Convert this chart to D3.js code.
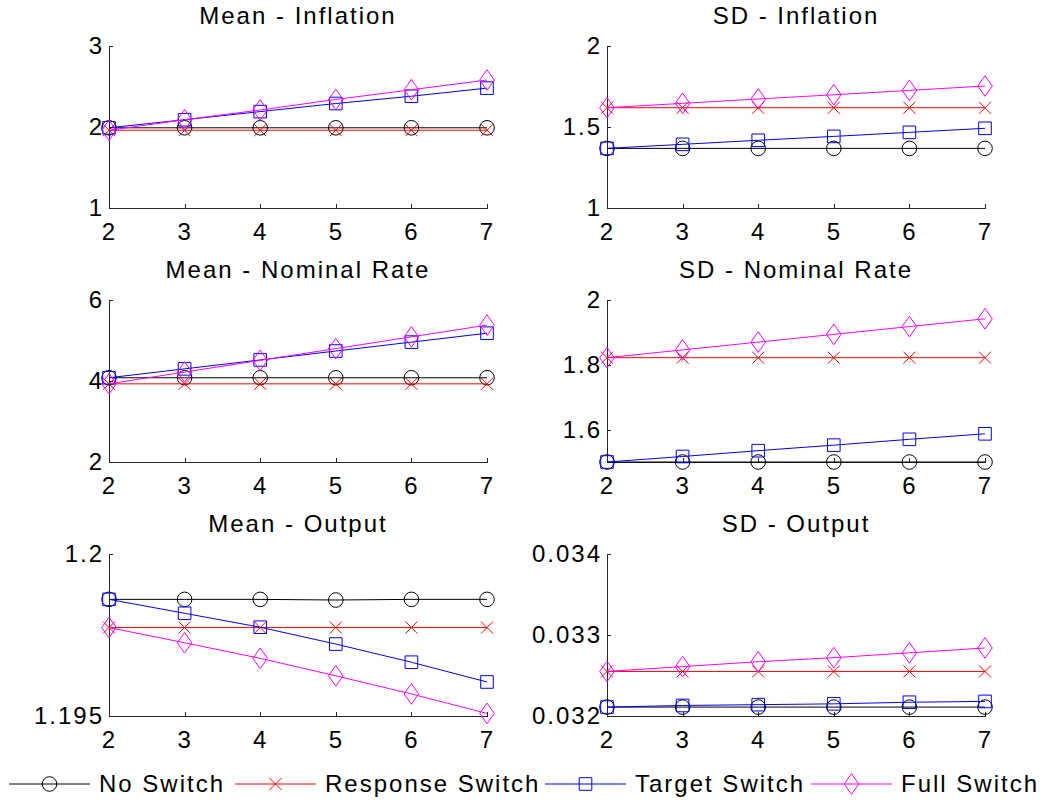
<!DOCTYPE html>
<html>
<head>
<meta charset="utf-8">
<script src="https://cdn.jsdelivr.net/npm/d3@7"></script>
<style>
  body { margin: 0; background: white; }
  svg { font-family: 'Liberation Sans', Arial, sans-serif; }
  .title, .tick text, .legendText {
    font-family: 'Liberation Sans', Arial, sans-serif;
    font-size: 24px;
    letter-spacing: 2px;
    fill: #000;
  }
</style>
</head>
<body>
<svg id="chart" width="1043" height="803"></svg>
<script>

// horizons on the x axis
const horizons = [2, 3, 4, 5, 6, 7];

const seriesNames = ['No Switch', 'Response Switch', 'Target Switch', 'Full Switch'];
const seriesColors = ['#000000', '#ff0000', '#0000ff', '#ff00ff'];
const seriesShapes = ['circle', 'cross', 'square', 'diamond'];

// one row per series: no switch, response, target, full
const meanInflation = [
  [1.99, 1.99, 1.99, 1.99, 1.99, 1.99],
  [1.96, 1.96, 1.96, 1.96, 1.96, 1.96],
  [1.99, 2.09, 2.19, 2.29, 2.38, 2.48],
  [1.96, 2.09, 2.21, 2.34, 2.46, 2.58]
];
const sdInflation = [
  [1.368, 1.368, 1.368, 1.368, 1.368, 1.368],
  [1.619, 1.619, 1.619, 1.619, 1.619, 1.619],
  [1.368, 1.393, 1.418, 1.442, 1.467, 1.492],
  [1.619, 1.646, 1.673, 1.699, 1.726, 1.753]
];
const meanNominal = [
  [4.08, 4.08, 4.08, 4.08, 4.08, 4.08],
  [3.93, 3.93, 3.93, 3.93, 3.93, 3.93],
  [4.08, 4.30, 4.52, 4.74, 4.96, 5.18],
  [3.93, 4.22, 4.51, 4.80, 5.09, 5.38]
];
const sdNominal = [
  [1.5, 1.5, 1.5, 1.5, 1.5, 1.5],
  [1.822, 1.822, 1.822, 1.822, 1.822, 1.822],
  [1.5, 1.517, 1.535, 1.552, 1.570, 1.587],
  [1.822, 1.846, 1.870, 1.894, 1.918, 1.942]
];
const meanOutput = [
  [1.1986, 1.1986, 1.1986, 1.19858, 1.1986, 1.1986],
  [1.19773, 1.19773, 1.19773, 1.19773, 1.19773, 1.19773],
  [1.1986, 1.19817, 1.19774, 1.19722, 1.19666, 1.19605],
  [1.19773, 1.19726, 1.19678, 1.19624, 1.19568, 1.19508]
];
const sdOutput = [
  [0.03211, 0.03211, 0.03211, 0.03211, 0.03211, 0.03211],
  [0.03255, 0.03255, 0.03255, 0.03255, 0.03255, 0.03255],
  [0.03211, 0.03213, 0.03214, 0.03215, 0.03217, 0.03218],
  [0.03255, 0.03261, 0.03267, 0.03272, 0.03278, 0.03284]
];

const panelTitles = ['Mean - Inflation', 'SD - Inflation', 'Mean - Nominal Rate',
  'SD - Nominal Rate', 'Mean - Output', 'SD - Output'];
const panelValues = [meanInflation, sdInflation, meanNominal, sdNominal, meanOutput, sdOutput];

// y limits and tick labels
const yLimits = [[1, 3], [1, 2], [2, 6], [1.5, 2], [1.195, 1.2], [0.032, 0.034]];
const yTickValues = [[1, 2, 3], [1, 1.5, 2], [2, 4, 6], [1.6, 1.8, 2], [1.195, 1.2], [0.032, 0.033, 0.034]];


function markerPath(shape) {
  if (shape == 'circle') return 'M-7.3,0A7.3,7.3 0 1 0 7.3,0A7.3,7.3 0 1 0 -7.3,0Z';
  if (shape == 'cross') return 'M-6,-6L6,6M-6,6L6,-6';
  if (shape == 'square') return 'M-6.3,-6.3H6.3V6.3H-6.3Z';
  return 'M0,-10.3L7.3,0L0,10.3L-7.3,0Z';
}


function drawPanel(svg, i) {

  // variables
  const colLeft = [109, 607],
    rowTop = [46, 300, 554],
    innerWidth = 378,
    innerHeight = 162;

  const left = colLeft[i % 2],
    top = rowTop[Math.floor(i / 2)];

  let g = svg.append('g')
    .attr('class', 'panel')
    .attr('transform', `translate(${left}, ${top})`);

  // scales
  const x = d3.scaleLinear()
    .domain(d3.extent(horizons))
    .range([0, innerWidth]);

  const y = d3.scaleLinear()
    .domain(yLimits[i])
    .range([innerHeight, 0]);

  // axes, ticks pointing inward like matlab
  const xAxis = d3.axisBottom(x)
    .tickValues(horizons)
    .tickFormat(d3.format('d'))
    .tickSizeInner(-4)
    .tickSizeOuter(0)
    .tickPadding(15);

  const yAxis = d3.axisLeft(y)
    .tickValues(yTickValues[i])
    .tickFormat(d => String(d))
    .tickSizeInner(-4)
    .tickSizeOuter(0)
    .tickPadding(5);

  g.append('g')
    .attr('class', 'xAxis')
    .attr('transform', `translate(0, ${innerHeight})`)
    .style('color', '#262626')
    .call(xAxis);

  g.append('g')
    .attr('class', 'yAxis')
    .style('color', '#262626')
    .call(yAxis);

  g.selectAll('.domain, .tick line')
    .attr('shape-rendering', 'crispEdges');

  g.selectAll('.tick text')
    .style('fill', '#000');

  // title
  g.append('text')
    .attr('class', 'title')
    .attr('x', innerWidth / 2)
    .attr('y', -22)
    .attr('text-anchor', 'middle')
    .text(panelTitles[i]);

  // series lines then markers, in plotting order
  const line = d3.line()
    .x((d, j) => x(horizons[j]))
    .y(d => y(d));

  panelValues[i].forEach((vals, s) => {
    let sg = g.append('g').attr('class', 'series');

    sg.append('path')
      .datum(vals)
      .attr('d', line)
      .style('fill', 'none')
      .style('stroke', seriesColors[s])
      .style('stroke-width', 1);

    sg.selectAll('.marker')
      .data(vals)
      .join('path')
      .attr('class', 'marker')
      .attr('d', markerPath(seriesShapes[s]))
      .attr('transform', (d, j) => `translate(${x(horizons[j])}, ${y(d)})`)
      .style('fill', 'none')
      .style('stroke', seriesColors[s])
      .style('stroke-width', 1);
  });
}


function drawLegend(svg) {
  const itemX = [9, 235, 545, 811],
    lineLen = 81,
    legendY = 784;

  let items = svg.append('g')
    .attr('class', 'legend')
    .selectAll('g')
    .data(seriesNames)
    .join('g')
    .attr('transform', (d, i) => `translate(${itemX[i]}, ${legendY})`);

  items.append('path')
    .attr('d', `M0,0H${lineLen}`)
    .style('stroke', (d, i) => seriesColors[i])
    .style('stroke-width', 1);

  items.append('path')
    .attr('d', (d, i) => markerPath(seriesShapes[i]))
    .attr('transform', `translate(${lineLen / 2}, 0)`)
    .style('fill', 'none')
    .style('stroke', (d, i) => seriesColors[i])
    .style('stroke-width', 1);

  items.append('text')
    .attr('class', 'legendText')
    .attr('x', lineLen + 9)
    .attr('dy', '0.35em')
    .text(d => d);
}


const svg = d3.select('#chart');

svg.append('rect')
  .attr('width', 1043)
  .attr('height', 803)
  .attr('fill', 'white');

panelTitles.forEach((t, i) => drawPanel(svg, i));
drawLegend(svg);

</script>
</body>
</html>
